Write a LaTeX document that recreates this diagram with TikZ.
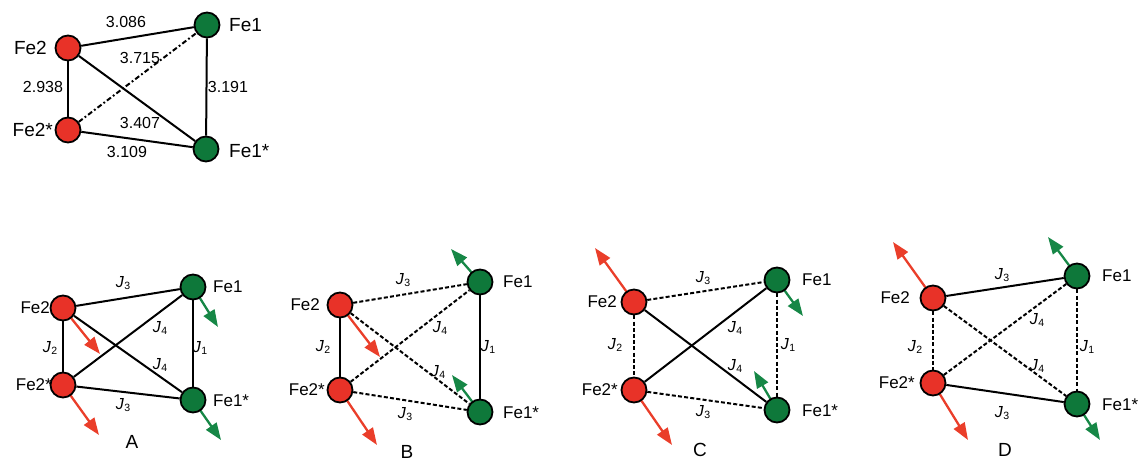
\documentclass[tikz,border=0pt]{standalone}
\usepackage{fontspec}
\setmainfont{Liberation Sans}
\usetikzlibrary{arrows.meta,backgrounds}
\definecolor{fered}{RGB}{232,50,40}
\definecolor{fegreen}{RGB}{14,120,58}
\definecolor{spred}{RGB}{234,62,42}
\definecolor{spgreen}{RGB}{22,135,70}
\newcommand{\Jlab}[1]{\textit{J}\kern0.5pt\raisebox{-0.3ex}{\fontsize{10.5}{10.5}\selectfont #1}}
\begin{document}
\begin{tikzpicture}[x=1pt,y=-1pt,
  atom/.style={circle,draw=black,line width=1.8pt,minimum size=25pt,inner sep=0pt},
  redatom/.style={atom,fill=fered},
  greenatom/.style={atom,fill=fegreen},
  bond/.style={line width=2pt,draw=black},
  dbond/.style={bond,dash pattern=on 4pt off 2.2pt},
  ddbond/.style={bond,dash pattern=on 5pt off 2.5pt on 1.8pt off 2.5pt},
  spinr/.style={draw=spred,line width=2.3pt,-{Triangle[length=17pt,width=12.5pt,fill=spred]}},
  sping/.style={draw=spgreen,line width=2.3pt,-{Triangle[length=17pt,width=12.5pt,fill=spgreen]}},
  tlab/.style={font=\fontsize{19}{19}\selectfont,inner sep=0pt},
  blab/.style={font=\fontsize{17}{17}\selectfont,inner sep=0pt},
  num/.style={font=\fontsize{16}{16}\selectfont,inner sep=0pt},
  jlab/.style={font=\fontsize{16}{16}\selectfont,inner sep=0pt},
  plab/.style={font=\fontsize{19}{19}\selectfont,inner sep=0pt}]
\useasboundingbox (0,0) rectangle (1138,462);

% ---------- top diagram ----------
\node[redatom] (t2) at (68,48) {};
\node[greenatom] (t1) at (207,25) {};
\node[redatom] (t2s) at (68,130) {};
\node[greenatom] (t1s) at (206,149) {};
\node[tlab,anchor=east] (t2l) at (47,48) {Fe2};
\node[tlab,anchor=west] (t1l) at (229,25) {Fe1};
\node[tlab,anchor=east] (t2sl) at (53,130) {Fe2*};
\node[tlab,anchor=west] (t1sl) at (229,151) {Fe1*};
\node[num] (n1) at (126,22) {3.086};
\node[num] (n2) at (140,58) {3.715};
\node[num] (n3) at (43,87) {2.938};
\node[num] (n4) at (228,87) {3.191};
\node[num] (n5) at (140,123) {3.407};
\node[num] (n6) at (127,152) {3.109};
\begin{scope}[on background layer]
  \draw[bond] (t2) -- (t1);
  \draw[bond] (t2) -- (t2s);
  \draw[bond] (t2) -- (t1s);
  \draw[bond] (t1) -- (t1s);
  \draw[bond] (t2s) -- (t1s);
  \draw[ddbond] (t2s) -- (t1);
\end{scope}

% ---------- panel A ----------
\node[redatom] (a2) at (63,308) {};
\node[greenatom] (a1) at (193,287) {};
\node[redatom] (a2s) at (63,385) {};
\node[greenatom] (a1s) at (193,400) {};
\node[blab,anchor=east] (a2l) at (50,308) {Fe2};
\node[blab,anchor=west] (a1l) at (213,287) {Fe1};
\node[blab,anchor=east] (a2sl) at (52,385) {Fe2*};
\node[blab,anchor=west] (a1sl) at (213,401) {Fe1*};
\node[jlab] (aj3t) at (123,283) {\Jlab{3}};
\node[jlab] (aj4u) at (160,328) {\Jlab{4}};
\node[jlab] (aj2) at (50,348) {\Jlab{2}};
\node[jlab] (aj1) at (200,348) {\Jlab{1}};
\node[jlab] (aj4l) at (160,365) {\Jlab{4}};
\node[jlab] (aj3b) at (123,405) {\Jlab{3}};
\node[plab] (pa) at (132,442) {A};
\coordinate (a2t) at (100,354);
\coordinate (a2st) at (99,435);
\coordinate (a1t) at (218,327);
\coordinate (a1st) at (221,440);
\begin{scope}[on background layer]
  \draw[bond] (a2) -- (a1);
  \draw[bond] (a2) -- (a2s);
  \draw[bond] (a2) -- (a1s);
  \draw[bond] (a1) -- (a1s);
  \draw[bond] (a2s) -- (a1s);
  \draw[bond] (a2s) -- (a1);
  \draw[spinr] (a2.center) -- (a2t);
  \draw[spinr] (a2s.center) -- (a2st);
  \draw[sping] (a1.center) -- (a1t);
  \draw[sping] (a1s.center) -- (a1st);
\end{scope}

% ---------- panel B ----------
\node[redatom] (b2) at (340,305) {};
\node[greenatom] (b1) at (480,282) {};
\node[redatom] (b2s) at (340,390) {};
\node[greenatom] (b1s) at (480,412) {};
\node[blab,anchor=east] (b2l) at (320,305) {Fe2};
\node[blab,anchor=west] (b1l) at (503,282) {Fe1};
\node[blab,anchor=east] (b2sl) at (325,390) {Fe2*};
\node[blab,anchor=west] (b1sl) at (503,413) {Fe1*};
\node[jlab] (bj3t) at (403,280) {\Jlab{3}};
\node[jlab] (bj4u) at (440,328) {\Jlab{4}};
\node[jlab] (bj2) at (323,347) {\Jlab{2}};
\node[jlab] (bj1) at (488,347) {\Jlab{1}};
\node[jlab] (bj4l) at (438,372) {\Jlab{4}};
\node[jlab] (bj3b) at (405,414) {\Jlab{3}};
\node[plab] (pb) at (407,452) {B};
\coordinate (b2t) at (380,357);
\coordinate (b2st) at (377,445);
\coordinate (b1t) at (451,249);
\coordinate (b1st) at (452,375);
\begin{scope}[on background layer]
  \draw[dbond] (b2) -- (b1);
  \draw[bond] (b2) -- (b2s);
  \draw[dbond] (b2) -- (b1s);
  \draw[bond] (b1) -- (b1s);
  \draw[dbond] (b2s) -- (b1s);
  \draw[dbond] (b2s) -- (b1);
  \draw[spinr] (b2.center) -- (b2t);
  \draw[spinr] (b2s.center) -- (b2st);
  \draw[sping] (b1.center) -- (b1t);
  \draw[sping] (b1s.center) -- (b1st);
\end{scope}

% ---------- panel C ----------
\node[redatom] (c2) at (634,302) {};
\node[greenatom] (c1) at (777,280) {};
\node[redatom] (c2s) at (634,390) {};
\node[greenatom] (c1s) at (777,410) {};
\node[blab,anchor=east] (c2l) at (617,302) {Fe2};
\node[blab,anchor=west] (c1l) at (802,280) {Fe1};
\node[blab,anchor=east] (c2sl) at (618,390) {Fe2*};
\node[blab,anchor=west] (c1sl) at (802,411) {Fe1*};
\node[jlab] (cj3t) at (703,278) {\Jlab{3}};
\node[jlab] (cj4u) at (735,328) {\Jlab{4}};
\node[jlab] (cj2) at (615,345) {\Jlab{2}};
\node[jlab] (cj1) at (788,345) {\Jlab{1}};
\node[jlab] (cj4l) at (735,366) {\Jlab{4}};
\node[jlab] (cj3b) at (703,412) {\Jlab{3}};
\node[plab] (pc) at (700,450) {C};
\coordinate (c2t) at (595,248);
\coordinate (c2st) at (672,445);
\coordinate (c1t) at (803,316);
\coordinate (c1st) at (754,371);
\begin{scope}[on background layer]
  \draw[dbond] (c2) -- (c1);
  \draw[dbond] (c2) -- (c2s);
  \draw[bond] (c2) -- (c1s);
  \draw[dbond] (c1) -- (c1s);
  \draw[dbond] (c2s) -- (c1s);
  \draw[bond] (c2s) -- (c1);
  \draw[spinr] (c2.center) -- (c2t);
  \draw[spinr] (c2s.center) -- (c2st);
  \draw[sping] (c1.center) -- (c1t);
  \draw[sping] (c1s.center) -- (c1st);
\end{scope}

% ---------- panel D ----------
\node[redatom] (d2) at (933,298) {};
\node[greenatom] (d1) at (1077,276) {};
\node[redatom] (d2s) at (933,383) {};
\node[greenatom] (d1s) at (1077,404) {};
\node[blab,anchor=east] (d2l) at (910,298) {Fe2};
\node[blab,anchor=west] (d1l) at (1102,276) {Fe1};
\node[blab,anchor=east] (d2sl) at (915,383) {Fe2*};
\node[blab,anchor=west] (d1sl) at (1102,405) {Fe1*};
\node[jlab] (dj3t) at (1002,275) {\Jlab{3}};
\node[jlab] (dj4u) at (1037,320) {\Jlab{4}};
\node[jlab] (dj2) at (915,347) {\Jlab{2}};
\node[jlab] (dj1) at (1087,347) {\Jlab{1}};
\node[jlab] (dj4l) at (1037,366) {\Jlab{4}};
\node[jlab] (dj3b) at (1002,413) {\Jlab{3}};
\node[plab] (pd) at (1005,450) {D};
\coordinate (d2t) at (893,242);
\coordinate (d2st) at (968,440);
\coordinate (d1t) at (1048,237);
\coordinate (d1st) at (1100,440);
\begin{scope}[on background layer]
  \draw[bond] (d2) -- (d1);
  \draw[dbond] (d2) -- (d2s);
  \draw[dbond] (d2) -- (d1s);
  \draw[dbond] (d1) -- (d1s);
  \draw[bond] (d2s) -- (d1s);
  \draw[dbond] (d2s) -- (d1);
  \draw[spinr] (d2.center) -- (d2t);
  \draw[spinr] (d2s.center) -- (d2st);
  \draw[sping] (d1.center) -- (d1t);
  \draw[sping] (d1s.center) -- (d1st);
\end{scope}
\end{tikzpicture}
\end{document}
